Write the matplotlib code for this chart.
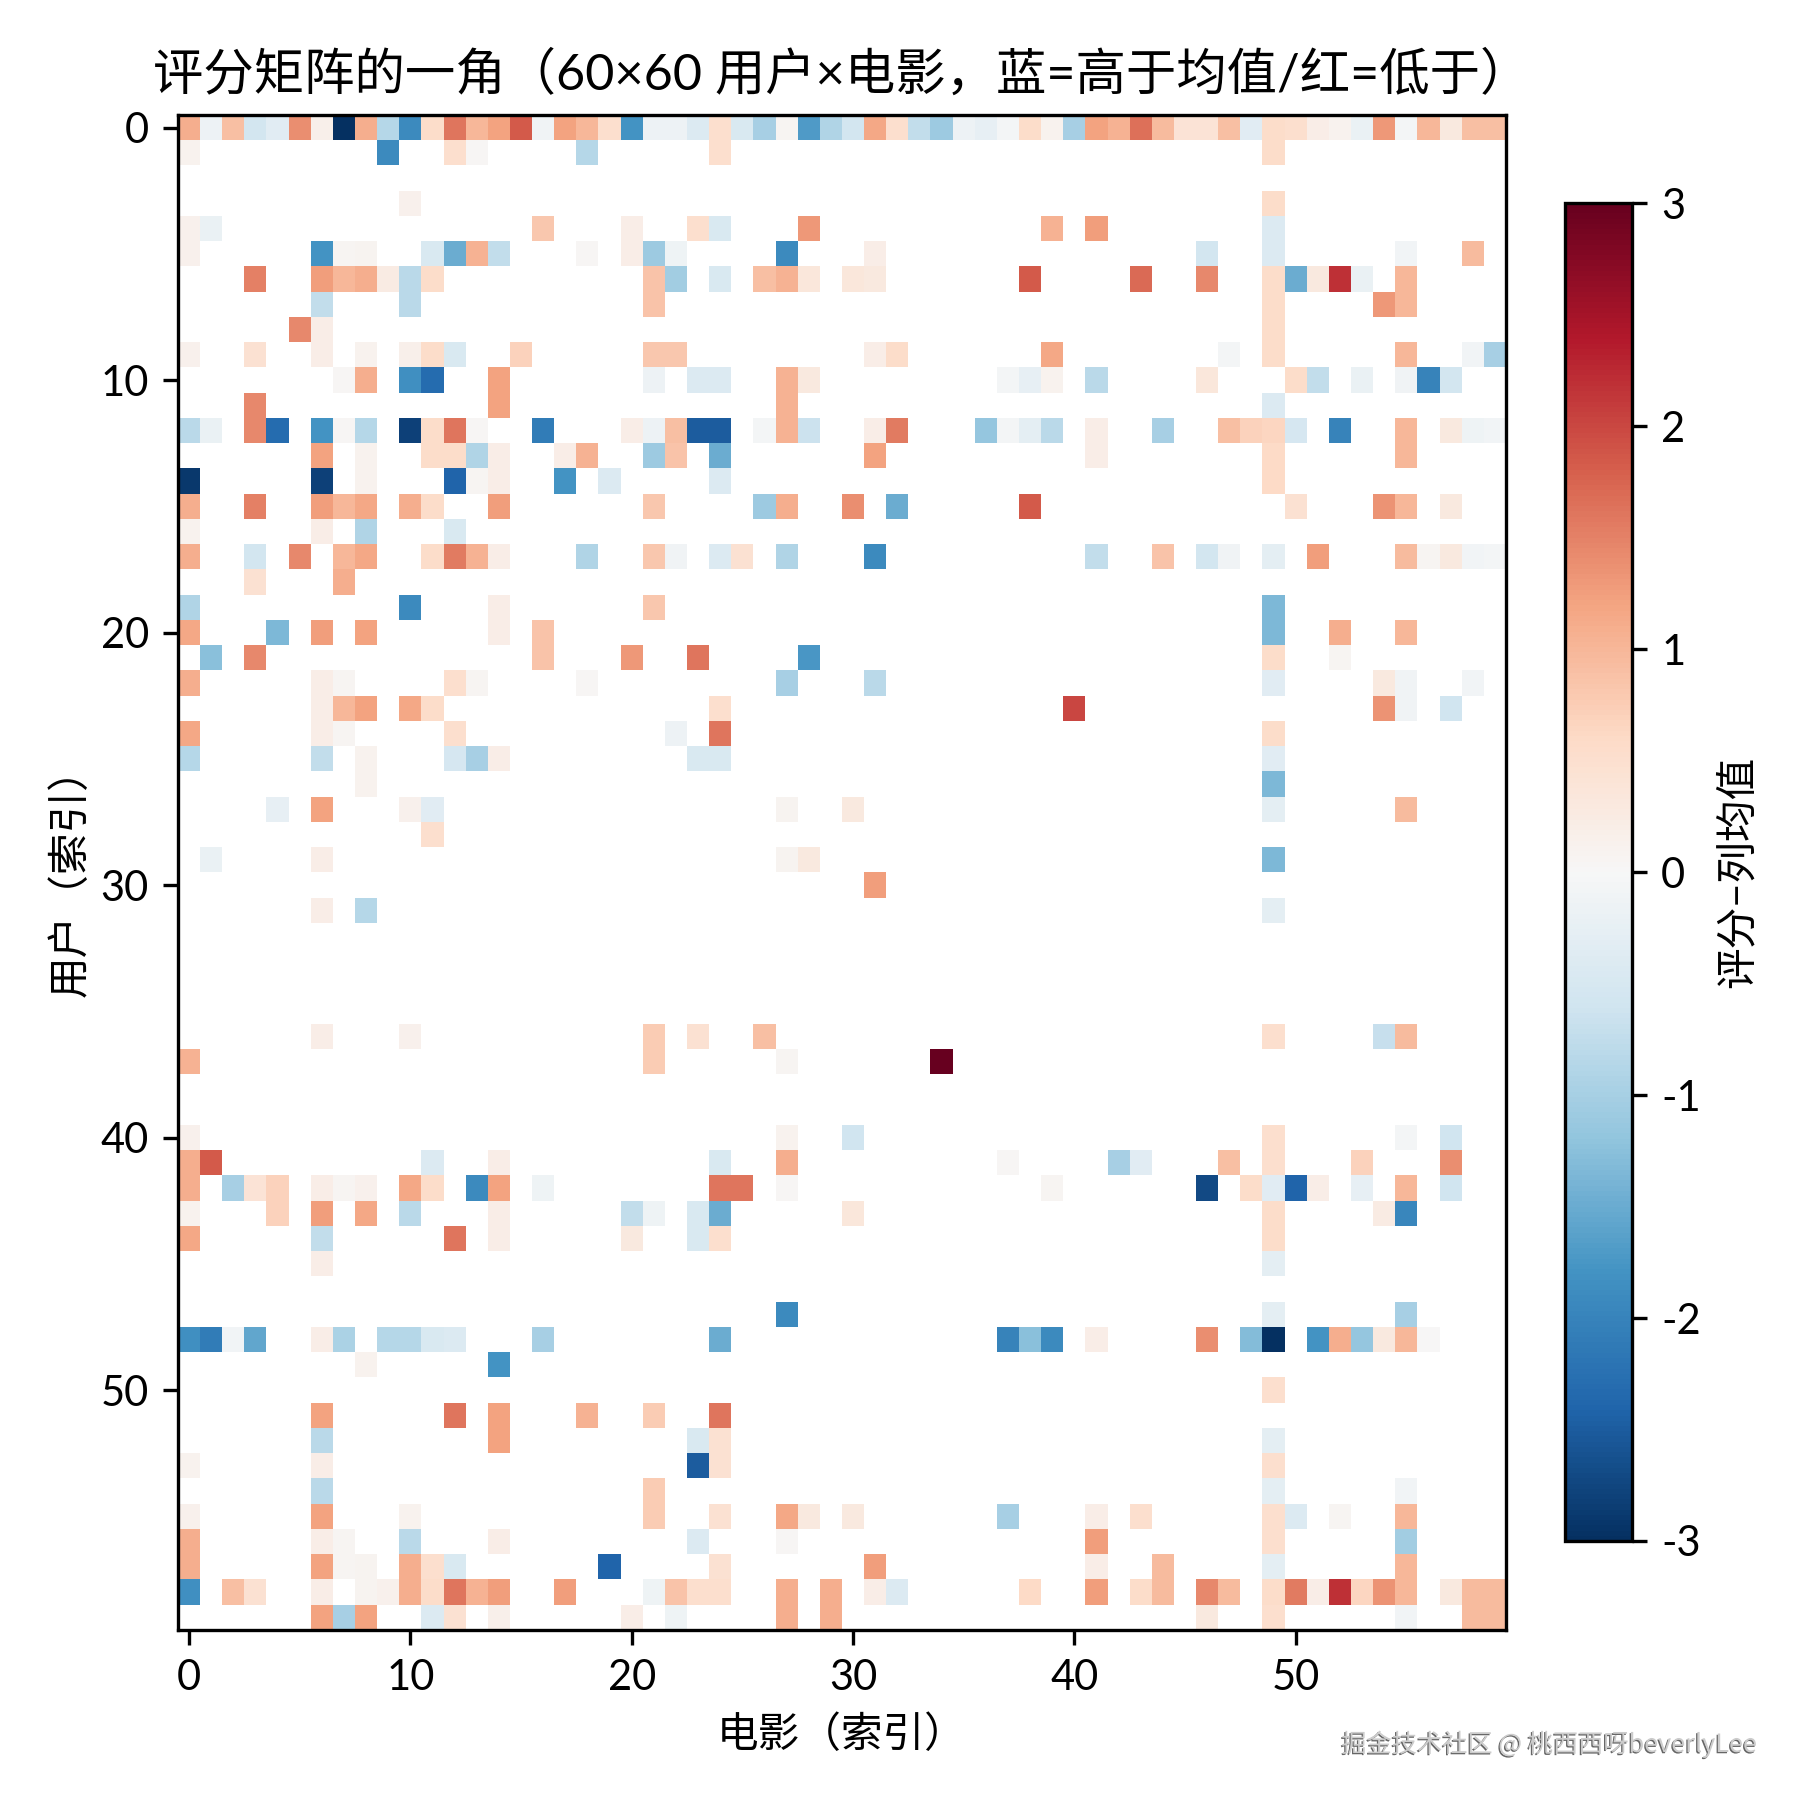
import numpy as np
import matplotlib
matplotlib.use("Agg")
import matplotlib.pyplot as plt
import matplotlib.patheffects as pe

plt.rcParams['font.family'] = ['Lato', 'Noto Sans CJK SC', 'DejaVu Sans']
plt.rcParams['axes.unicode_minus'] = False

n_users = 60
n_movies = 60

r00 = [1.1,-0.15,0.9,-0.55,-0.35,1.4,0.15,-3,1.1,-0.85,-1.9,0.55,1.6,1.0,1.2,1.85,-0.1,1.2,1.0,0.5,-1.8,-0.15,-0.15,-0.4,0.5,-0.45,-1.0,0.05,-1.7,-0.9,-0.55,1.15,0.5,-0.75,-1.1,-0.15,-0.25,-0.05,0.55,0.1,-1.0,1.2,1.05,1.65,0.95,0.4,0.4,0.9,-0.35,0.55,0.5,0.2,0.1,-0.2,1.3,-0.05,1.0,0.3,0.9,0.9]
r01 = {0:0.1,9:-1.9,12:0.5,13:0.03,18:-0.85,24:0.5,49:0.55}
r02 = {}
r03 = {10:0.12,49:0.55}
r04 = {0:0.12,1:-0.2,16:0.8,20:0.2,23:0.5,24:-0.45,28:1.3,39:1.05,41:1.25,49:-0.4}
r05 = {0:0.12,6:-1.8,7:0.05,8:0.08,11:-0.45,12:-1.5,13:1.05,14:-0.75,18:0.03,20:0.2,21:-1.1,22:-0.12,27:-1.9,31:0.2,46:-0.55,49:-0.4,55:-0.08,58:0.95}
r06 = {3:1.5,6:1.25,7:1.0,8:1.1,9:0.25,10:-0.8,11:0.55,21:0.85,22:-1.05,24:-0.45,26:0.9,27:1.05,28:0.35,30:0.35,31:0.3,38:1.85,43:1.7,46:1.45,49:0.55,50:-1.5,51:0.3,52:2.2,53:-0.2,55:1.0}
r07 = {6:-0.75,10:-0.8,21:0.85,49:0.55,54:1.3,55:1.0}
r08 = {5:1.45,6:0.2,49:0.55}
r09 = {0:0.12,3:0.45,6:0.2,8:0.1,10:0.15,11:0.55,12:-0.45,15:0.7,21:0.8,22:0.8,31:0.2,32:0.55,39:1.15,47:-0.07,49:0.55,55:1.0,58:-0.08,59:-1.0}
r10 = {7:0.03,8:1.1,10:-1.85,11:-2.3,14:1.2,21:-0.15,23:-0.4,24:-0.4,27:1.05,28:0.3,37:-0.07,38:-0.25,39:0.1,41:-0.8,46:0.35,50:0.55,51:-0.75,53:-0.2,55:-0.1,56:-2.0,57:-0.55}
r11 = {3:1.45,14:1.2,27:1.05,49:-0.4}
r12 = {0:-0.8,1:-0.2,3:1.45,4:-2.3,6:-1.8,7:0.03,8:-0.85,10:-2.8,11:0.55,12:1.6,13:0.03,16:-2.1,20:0.2,21:-0.15,22:0.9,23:-2.5,24:-2.5,26:-0.07,27:1.05,28:-0.65,31:0.2,32:1.55,36:-1.15,37:-0.07,38:-0.3,39:-0.8,41:0.2,44:-1.0,47:0.9,48:0.7,49:0.65,50:-0.5,52:-2.0,55:1.0,57:0.3,58:-0.12,59:-0.08}
r13 = {6:1.2,8:0.1,11:0.55,12:0.55,13:-0.9,14:0.2,17:0.2,18:1.05,21:-1.1,22:0.85,24:-1.5,31:1.2,41:0.2,49:0.6,55:1.0}
r14 = {0:-2.9,6:-2.8,8:0.1,12:-2.4,13:0.05,14:0.2,17:-1.8,19:-0.4,24:-0.4,49:0.6}
r15 = {0:1.1,3:1.5,6:1.25,7:1.0,8:1.15,10:1.1,11:0.55,14:1.25,21:0.8,26:-1.1,27:1.1,30:1.4,32:-1.5,38:1.85,50:0.45,54:1.35,55:1.0,57:0.3}
r16 = {0:0.1,6:0.2,8:-0.9,12:-0.45}
r17 = {0:1.1,3:-0.55,5:1.45,7:1.0,8:1.15,11:0.55,12:1.55,13:1.05,14:0.2,18:-0.9,21:0.8,22:-0.1,24:-0.4,25:0.45,27:-0.9,31:-1.9,41:-0.75,44:0.85,46:-0.55,47:-0.1,49:-0.3,51:1.25,55:0.95,56:0.05,57:0.3,58:-0.08,59:-0.05}
r18 = {3:0.45,7:1.1}
r19 = {0:-0.9,10:-1.9,14:0.2,21:0.8,49:-1.35}
r20 = {0:1.15,4:-1.35,6:1.25,8:1.2,14:0.2,16:0.85,49:-1.35,52:1.1,55:1.0}
r21 = {1:-1.25,3:1.45,16:0.85,20:1.3,23:1.6,28:-1.75,49:0.55,52:0.05}
r22 = {0:1.1,6:0.2,7:0.05,12:0.5,13:0.05,18:0.03,27:-1.0,31:-0.8,49:-0.35,54:0.3,55:-0.1,58:-0.08}
r23 = {6:0.2,7:1.0,8:1.2,10:1.15,11:0.55,24:0.5,40:2.0,54:1.35,55:-0.1,57:-0.6}
r24 = {0:1.15,6:0.2,7:0.05,12:0.5,22:-0.15,24:1.6,49:0.55}
r25 = {0:-0.85,6:-0.75,8:0.1,12:-0.5,13:-1.0,14:0.2,23:-0.45,24:-0.45,49:-0.35}
r26 = {8:0.1,49:-1.35}
r27 = {4:-0.25,6:1.2,10:0.12,11:-0.35,27:0.08,30:0.3,49:-0.3,55:0.95}
r28 = {11:0.5}
r29 = {1:-0.2,6:0.2,27:0.08,28:0.3,49:-1.35}
r30 = {31:1.25}
r31 = {6:0.2,8:-0.85,49:-0.3}
r32 = {}
r33 = {}
r34 = {}
r35 = {}
r36 = {6:0.2,10:0.12,21:0.75,23:0.45,26:0.9,49:0.5,54:-0.7,55:0.95}
r37 = {0:1.05,21:0.75,27:0.05,34:3.0}
r38 = {}
r39 = {}
r40 = {0:0.12,27:0.1,30:-0.6,49:0.5,55:-0.07,57:-0.6}
r41 = {0:1.1,1:1.85,11:-0.4,14:0.2,24:-0.45,27:1.1,37:0.03,42:-1.0,43:-0.35,47:0.9,49:0.5,53:0.7,57:1.4}
r42 = {0:1.1,2:-1.0,3:0.4,4:0.7,6:0.2,7:0.05,8:0.12,10:1.15,11:0.55,13:-1.9,14:1.2,16:-0.12,24:1.6,25:1.6,27:0.03,39:0.07,46:-2.7,48:0.55,49:-0.35,50:-2.4,51:0.2,53:-0.25,55:1.0,57:-0.6}
r43 = {0:0.1,4:0.7,6:1.25,8:1.15,10:-0.8,14:0.2,20:-0.75,21:-0.12,23:-0.45,24:-1.5,30:0.35,49:0.55,54:0.25,55:-1.95}
r44 = {0:1.15,6:-0.75,12:1.6,14:0.2,20:0.3,23:-0.45,24:0.5,49:0.55}
r45 = {6:0.2,49:-0.3}
r46 = {}
r47 = {27:-1.9,49:-0.3,55:-1.0}
r48 = {0:-1.85,1:-2.1,2:-0.08,3:-1.55,6:0.2,7:-0.95,9:-0.85,10:-0.85,11:-0.45,12:-0.4,16:-1.0,24:-1.5,37:-2.0,38:-1.25,39:-1.9,41:0.2,46:1.4,48:-1.3,49:-3,51:-1.8,52:1.1,53:-1.15,54:0.3,55:1.0,56:0.02}
r49 = {8:0.1,14:-1.8}
r50 = {49:0.5}
r51 = {6:1.2,12:1.6,14:1.2,18:1.05,21:0.75,24:1.6}
r52 = {6:-0.8,14:1.2,23:-0.45,24:0.45,49:-0.3}
r53 = {0:0.1,6:0.2,23:-2.5,24:0.45,49:0.5}
r54 = {6:-0.8,21:0.75,49:-0.3,55:-0.08}
r55 = {0:0.12,6:1.2,10:0.1,21:0.75,24:0.45,27:1.15,28:0.3,30:0.3,37:-1.0,41:0.2,43:0.5,49:0.5,50:-0.4,52:0.07,55:1.0}
r56 = {0:1.1,6:0.2,7:0.05,10:-0.8,14:0.2,23:-0.4,27:0.03,41:1.25,49:0.5,55:-1.05}
r57 = {0:1.1,6:1.2,7:0.05,8:0.08,10:1.1,11:0.5,12:-0.45,19:-2.4,24:0.45,31:1.25,41:0.2,44:0.95,49:-0.3,55:1.0}
r58 = {0:-1.85,2:0.9,3:0.45,6:0.2,8:0.08,9:0.12,10:1.1,11:0.55,12:1.6,13:1.05,14:1.25,17:1.25,21:-0.12,22:0.85,23:0.5,24:0.5,27:1.1,29:1.1,31:0.2,32:-0.4,38:0.6,41:1.25,43:0.55,44:0.95,46:1.45,47:0.95,49:0.55,50:1.55,51:0.2,52:2.2,53:0.65,54:1.35,55:1.0,57:0.3,58:0.95,59:0.95}
r59 = {6:1.2,7:-1.0,8:1.2,11:-0.4,12:0.45,14:0.15,20:0.2,22:-0.12,27:1.1,29:1.1,46:0.3,49:0.5,55:-0.08,58:0.95,59:0.95}

user_rows = [dict(enumerate(r00)),r01,r02,r03,r04,r05,r06,r07,r08,r09,
             r10,r11,r12,r13,r14,r15,r16,r17,r18,r19,
             r20,r21,r22,r23,r24,r25,r26,r27,r28,r29,
             r30,r31,r32,r33,r34,r35,r36,r37,r38,r39,
             r40,r41,r42,r43,r44,r45,r46,r47,r48,r49,
             r50,r51,r52,r53,r54,r55,r56,r57,r58,r59]

xticks = [0, 10, 20, 30, 40, 50]
yticks = [0, 10, 20, 30, 40, 50]
cbar_ticks = [-3, -2, -1, 0, 1, 2, 3]

matrix = np.full((n_users, n_movies), np.nan)
for u, row in enumerate(user_rows):
    for m, v in row.items():
        matrix[u, m] = v

W = H = 1800
fig = plt.figure(figsize=(6, 6), dpi=300)
ax = fig.add_axes([178/W, 1-1630/H, (1506-178)/W, (1630-115)/H])
im = ax.imshow(matrix, cmap='RdBu_r', vmin=-3, vmax=3, aspect='auto', interpolation='nearest')
ax.set_xticks(xticks)
ax.set_yticks(yticks)
ax.tick_params(labelsize=10)
ax.set_xlabel('电影（索引）', fontsize=10)
ax.set_ylabel('用户（索引）', fontsize=10, labelpad=2.6)
ax.set_title('评分矩阵的一角（60×60 用户×电影，蓝=高于均值/红=低于）', fontsize=12.1)

cax = fig.add_axes([1565/W, 1-1541/H, 67/W, (1541-203)/H])
cb = fig.colorbar(im, cax=cax)
cb.set_ticks(cbar_ticks)
cb.ax.tick_params(labelsize=10)
cb.set_label('评分−列均值', fontsize=10)

fig.text(1757/W, 1-1752/H, '掘金技术社区 @ 桃西西呀beverlyLee', ha='right', va='baseline',
         fontsize=6.05, color='#cccccc', family=['Noto Sans CJK SC', 'DejaVu Sans'],
         path_effects=[pe.SimplePatchShadow(offset=(-0.3, -0.3), shadow_rgbFace='#666666', alpha=1), pe.Normal()])

fig.savefig('out.png', dpi=300, facecolor='white')
